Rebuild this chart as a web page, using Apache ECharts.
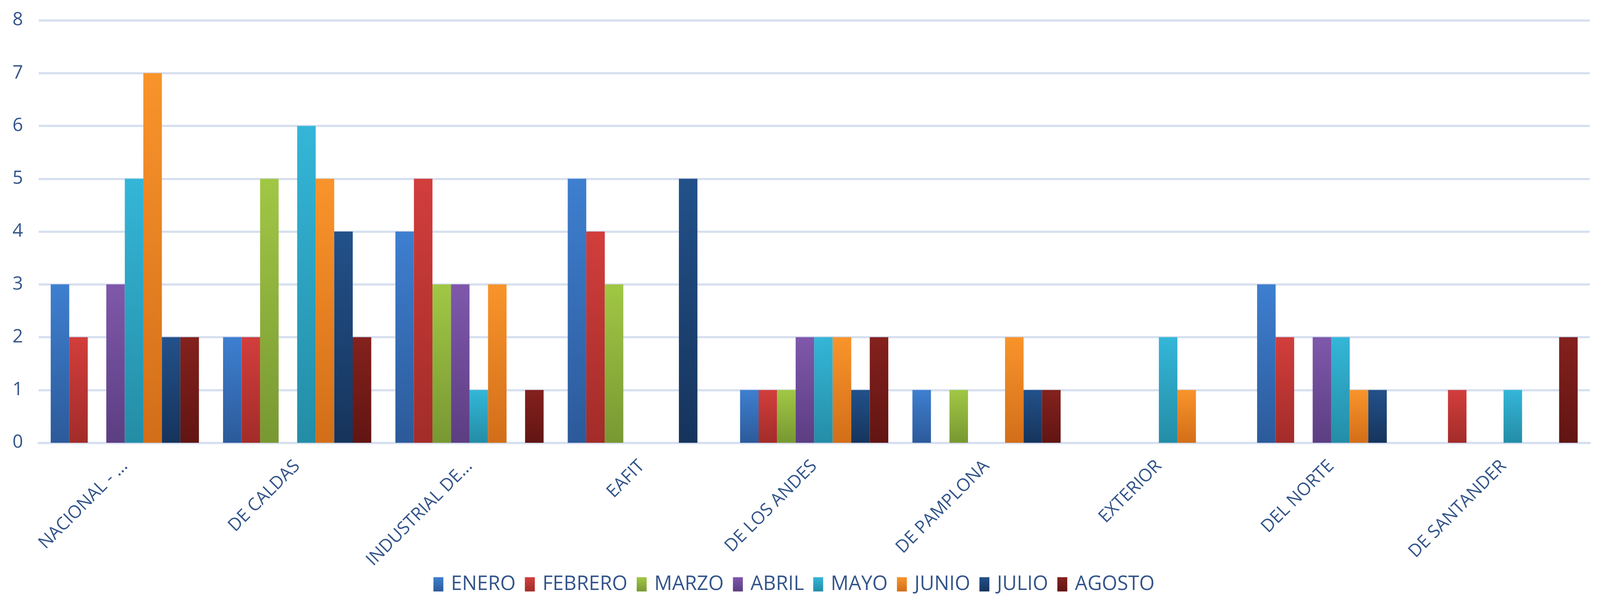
<!DOCTYPE html>
<html>
<head>
<meta charset="utf-8">
<script src="https://cdn.jsdelivr.net/npm/echarts@6/dist/echarts.min.js"></script>
<style>
html,body{margin:0;padding:0;background:#fff;overflow:hidden;}
#chart{width:100vw;height:100vh;}
</style>
</head>
<body>
<div id="chart"></div>
<script>
const categories = ['NACIONAL - ...','DE CALDAS','INDUSTRIAL DE...','EAFIT','DE LOS ANDES','DE PAMPLONA','EXTERIOR','DEL NORTE','DE SANTANDER'];
const seriesNames = ['ENERO','FEBRERO','MARZO','ABRIL','MAYO','JUNIO','JULIO','AGOSTO'];
const enero   = [3,2,4,5,1,1,0,3,0];
const febrero = [2,2,5,4,1,0,0,2,1];
const marzo   = [0,5,3,3,1,1,0,0,0];
const abril   = [3,0,3,0,2,0,0,2,0];
const mayo    = [5,6,1,0,2,0,2,2,1];
const junio   = [7,5,3,0,2,2,1,1,0];
const julio   = [2,4,0,5,1,1,0,1,0];
const agosto  = [2,2,1,0,2,1,0,0,2];
const yTicks  = [0,1,2,3,4,5,6,7,8];

const seriesData = [enero,febrero,marzo,abril,mayo,junio,julio,agosto];
const colorPairs = [
  ['#3e7fd0','#2c5a9a'],
  ['#d23e3c','#a22c29'],
  ['#a1c745','#789832'],
  ['#7f58ab','#5c3e82'],
  ['#34b6d8','#248da6'],
  ['#f9942b','#d26e19'],
  ['#22518a','#16345c'],
  ['#84211d','#611513']
];
const textColor = '#34558a';
const el = document.getElementById('chart');
const W = el.clientWidth || window.innerWidth;
const H = el.clientHeight || window.innerHeight;
const sx = W / 4513, sy = H / 1552, s = Math.min(sx, sy);
const chart = echarts.init(el);
const option = {
  backgroundColor: '#ffffff',
  animation: false,
  textStyle: {fontFamily: 'Open Sans'},
  grid: {left: 109 * sx, right: 29 * sx, top: 52 * sy, bottom: 418 * sy, containLabel: false},
  legend: {
    data: seriesNames,
    top: 1466 * sy,
    left: 1217 * sx,
    itemWidth: 28 * s,
    itemHeight: 40 * s,
    itemGap: 26 * s,
    icon: 'rect',
    textStyle: {color: textColor, fontSize: 56 * s, fontFamily: 'Open Sans', padding: [0, 0, 0, 16 * s]}
  },
  xAxis: {
    type: 'category',
    data: categories,
    axisLine: {show: true, lineStyle: {color: '#d6dff0', width: 6 * s}},
    axisTick: {show: false},
    axisLabel: {rotate: 45, margin: 58 * s, color: textColor, fontSize: 50 * s, fontFamily: 'Open Sans', interval: 0}
  },
  yAxis: {
    type: 'value',
    min: 0, max: 8, interval: 1,
    axisLine: {show: false},
    axisTick: {show: false},
    splitLine: {lineStyle: {color: '#d6dff0', width: 6 * s}},
    axisLabel: {margin: 44 * s, color: textColor, fontSize: 52 * s, fontFamily: 'Open Sans',
      formatter: v => yTicks.includes(v) ? String(v) : ''}
  },
  series: seriesNames.map((name, i) => ({
    name: name,
    type: 'bar',
    data: seriesData[i],
    barGap: '0%',
    barCategoryGap: '14%',
    itemStyle: {
      color: new echarts.graphic.LinearGradient(0, 0, 0, 1, [
        {offset: 0, color: colorPairs[i][0]},
        {offset: 1, color: colorPairs[i][1]}
      ])
    }
  }))
};
chart.setOption(option);
</script>
</body>
</html>
